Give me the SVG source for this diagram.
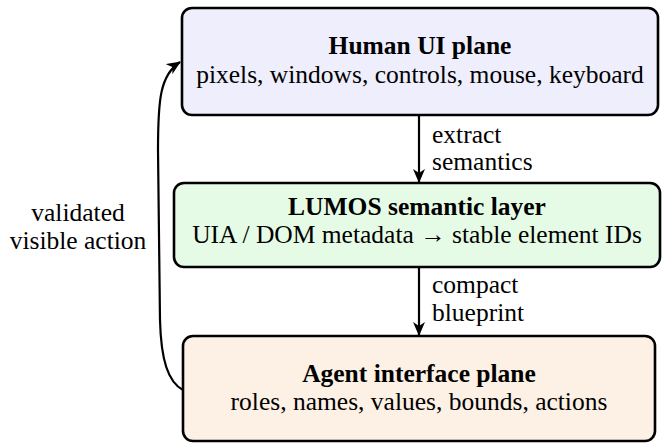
<svg xmlns="http://www.w3.org/2000/svg" width="663" height="443" viewBox="0 0 663 443">
<defs>
<style>
.box{stroke:#000;stroke-width:2.6}
.c{text-anchor:middle}
.b{font-weight:bold}
.edge{fill:none;stroke:#000;stroke-width:2.2}
</style>
<marker id="ah" viewBox="0 0 14 12" refX="13" refY="6" markerWidth="14" markerHeight="12" markerUnits="userSpaceOnUse" orient="auto">
<path d="M0,0 L14,6 L0,12 L4,6 Z" fill="#000"/>
</marker>
</defs>
<rect width="663" height="443" fill="#fff"/>
<g font-family="'Liberation Serif', 'Times New Roman', serif" font-size="25.5" fill="#000">
<g id="connectors">
<path class="edge" d="M419,116 L419,182" marker-end="url(#ah)"/>
<path class="edge" d="M419,268 L419,335" marker-end="url(#ah)"/>
<path class="edge" d="M183,390 C168,382 161,360 160,320 L158,150 C158,100 160,75 180,62" marker-end="url(#ah)"/>
<text class="c" x="78" y="221">validated</text>
<text class="c" x="78" y="249">visible action</text>
<text x="432" y="143">extract</text>
<text x="432" y="170">semantics</text>
<text x="432" y="293">compact</text>
<text x="432" y="321">blueprint</text>
</g>
<g id="human">
<rect class="box" x="182" y="8" width="476" height="107" rx="10" fill="#eeeefc"/>
<text class="c b" x="420" y="54">Human UI plane</text>
<text class="c" x="420" y="83">pixels, windows, controls, mouse, keyboard</text>
</g>
<g id="lumos">
<rect class="box" x="174" y="183" width="486" height="84" rx="10" fill="#e6fbe6"/>
<text class="c b" x="417" y="215">LUMOS semantic layer</text>
<text class="c" x="417" y="243">UIA / DOM metadata → stable element IDs</text>
</g>
<g id="agent">
<rect class="box" x="183" y="336" width="472" height="105" rx="10" fill="#fdf0e4"/>
<text class="c b" x="419" y="382">Agent interface plane</text>
<text class="c" x="419" y="410">roles, names, values, bounds, actions</text>
</g>
</g>
</svg>
